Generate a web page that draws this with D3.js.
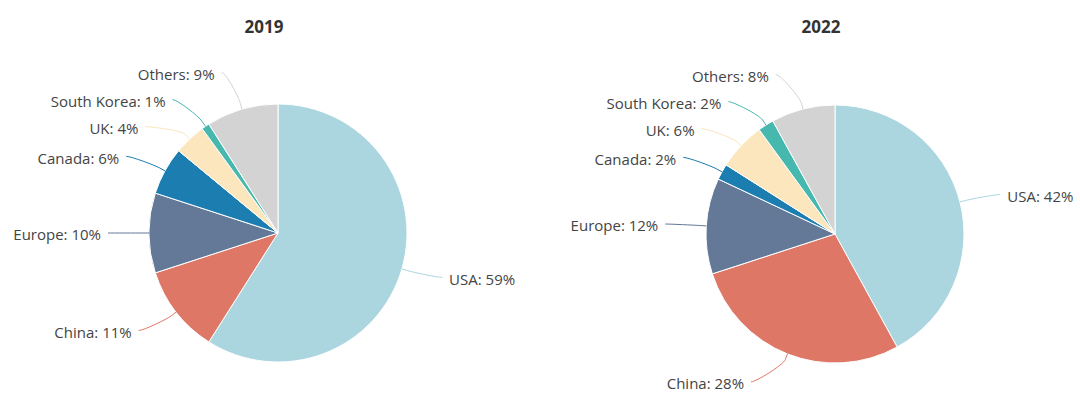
<!DOCTYPE html>
<html><head><meta charset="utf-8">
<script src="https://cdn.jsdelivr.net/npm/d3@7"></script>
<style>body{margin:0;background:#fff}svg{display:block}text{font-family:"Open Sans",sans-serif}</style>
</head><body><svg id="c" width="1080" height="408"></svg>
<script>
const categories = ["USA","China","Europe","Canada","UK","South Korea","Others"];
const years = ["2019","2022"];
const values2019 = [59,11,10,6,4,1,9];
const values2022 = [42,28,12,2,6,2,8];
const colors = ["#abd6df","#df7767","#637997","#1b7db0","#fbe6bd","#47b8ad","#d3d3d3"];

const svg = d3.select("#c");
const panels = [
  {year: years[0], values: values2019, cx: 278, cy: 233},
  {year: years[1], values: values2022, cx: 835, cy: 234}
];
const r = 129;
const color = d3.scaleOrdinal().domain(categories).range(colors);
const pie = d3.pie().sort(null).value(d => d.v);
const arc = d3.arc().innerRadius(0).outerRadius(r);

function layoutLabels(arcs, cx, cy) {
  const Rl = r + 30, Rx = 170, gap = 27;
  const items = arcs.map(a => {
    const m = (a.startAngle + a.endAngle) / 2;
    return {a, m, left: m > Math.PI, ny: cy - Rl * Math.cos(m)};
  });
  [true, false].forEach(side => {
    const s = items.filter(d => d.left === side).sort((p, q) => p.ny - q.ny);
    let clusters = s.map(d => ({members: [d], top: d.ny}));
    let changed = true;
    while (changed) {
      changed = false;
      for (let k = 0; k < clusters.length - 1; k++) {
        const A = clusters[k], B = clusters[k + 1];
        const aEnd = A.top + (A.members.length - 1) * gap;
        if (B.top - aEnd < gap) {
          const members = A.members.concat(B.members);
          const mean = d3.mean(members, d => d.ny);
          clusters.splice(k, 2, {members, top: mean - (members.length - 1) * gap / 2});
          changed = true; break;
        }
      }
    }
    clusters.forEach(c => c.members.forEach((d, j) => { d.y = c.top + j * gap; }));
  });
  items.forEach(d => {
    let dy = d.y - cy;
    const lim = 0.95 * Rx;
    dy = Math.max(-lim, Math.min(lim, dy));
    const dx = Math.sqrt(Rx * Rx - dy * dy);
    d.x = cx + (d.left ? -dx : dx);
  });
  return items;
}

panels.forEach(p => {
  const data = categories.map((c, i) => ({c, v: p.values[i]}));
  const arcs = pie(data);
  const g = svg.append("g");
  svg.append("text").attr("x", p.cx - 14).attr("y", 33).attr("text-anchor", "middle")
    .attr("font-size", 17).attr("font-weight", 700).attr("fill", "#333").text(p.year);
  g.append("g").attr("transform", `translate(${p.cx},${p.cy})`)
    .selectAll("path").data(arcs).join("path")
    .attr("d", arc).attr("fill", d => color(d.data.c))
    .attr("stroke", "#fff").attr("stroke-width", 1).attr("stroke-linejoin", "round");
  const labels = layoutLabels(arcs, p.cx, p.cy);
  labels.forEach(d => {
    const sx = Math.sin(d.m), cy_ = -Math.cos(d.m);
    const P = [p.cx + r * sx, p.cy + r * cy_];
    const B = [p.cx + (r + 6) * sx, p.cy + (r + 6) * cy_];
    const L = [d.x, d.y];
    const c1x = L[0] + (d.left ? 5 : -5);
    const path = d3.path();
    path.moveTo(L[0], L[1]);
    path.bezierCurveTo(c1x, L[1], 2 * B[0] - P[0], 2 * B[1] - P[1], B[0], B[1]);
    path.lineTo(P[0], P[1]);
    g.append("path").attr("d", path.toString()).attr("fill", "none")
      .attr("stroke", color(d.a.data.c)).attr("stroke-width", 1);
    g.append("text").attr("x", d.left ? d.x - 7 : d.x + 7).attr("y", d.y + 2)
      .attr("dy", "0.35em").attr("text-anchor", d.left ? "end" : "start")
      .attr("font-size", 15).attr("fill", "#444")
      .text(`${d.a.data.c}: ${d.a.data.v}%`);
  });
});
</script></body></html>
